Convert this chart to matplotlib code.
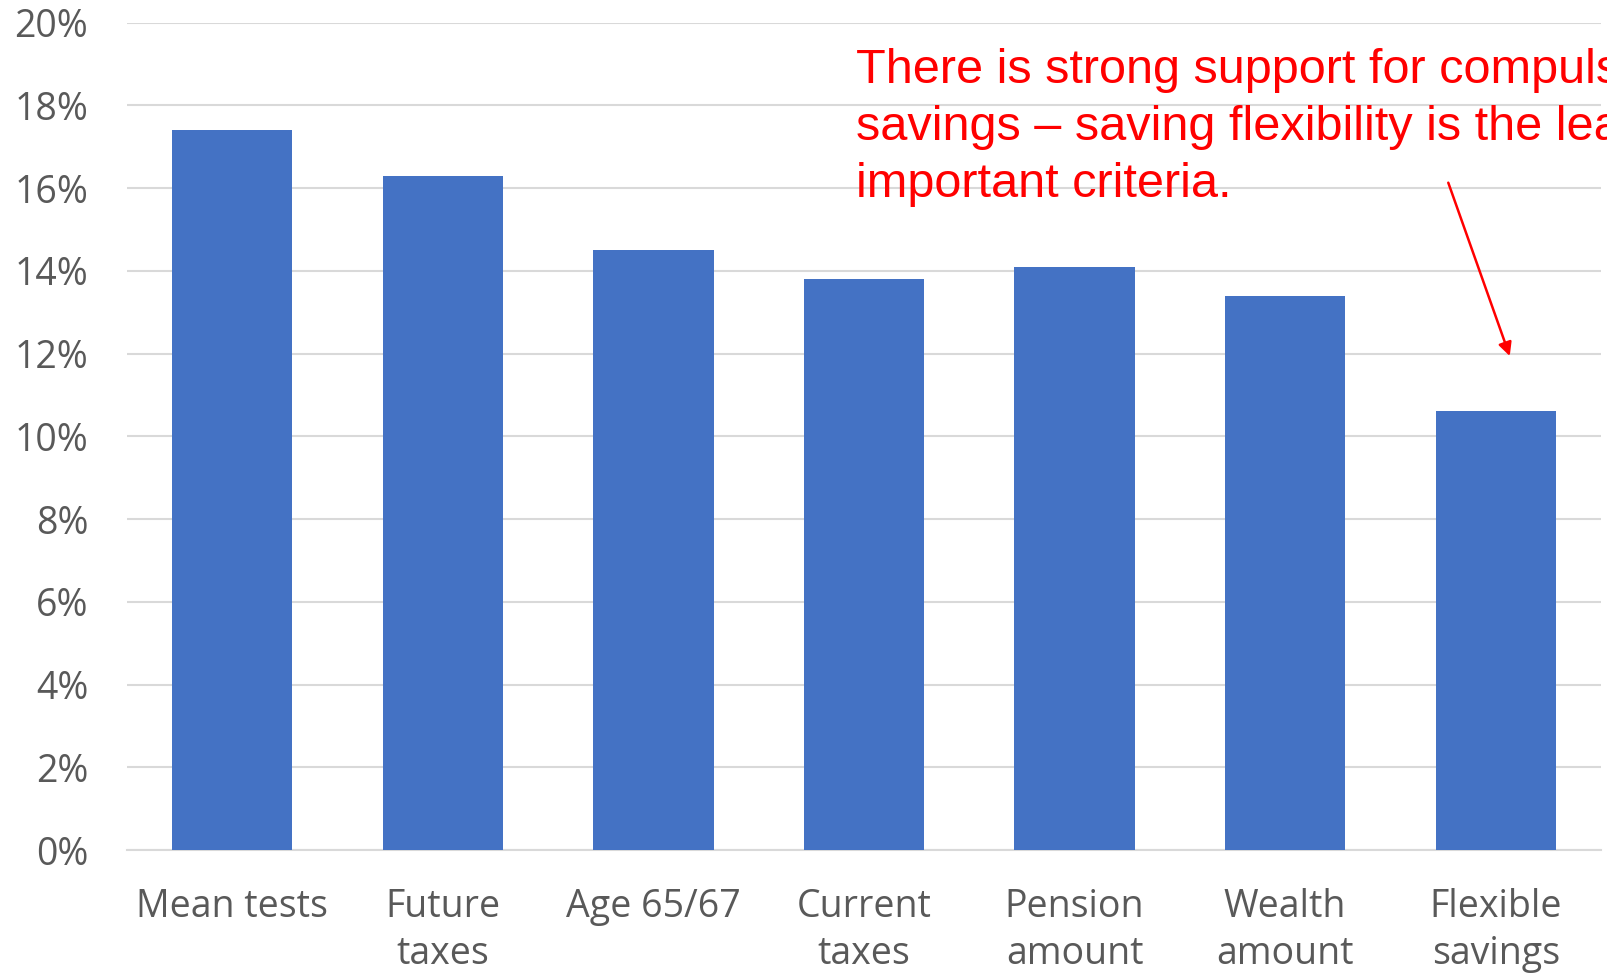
import matplotlib
matplotlib.use("Agg")
import matplotlib.pyplot as plt
from matplotlib.ticker import FuncFormatter

categories = ["Mean tests", "Future\ntaxes", "Age 65/67", "Current\ntaxes",
              "Pension\namount", "Wealth\namount", "Flexible\nsavings"]
shares = [17.4, 16.3, 14.5, 13.8, 14.1, 13.4, 10.6]
y_ticks = [0, 2, 4, 6, 8, 10, 12, 14, 16, 18, 20]
note = ("There is strong support for compulsory\n"
        "savings \u2013 saving flexibility is the least\n"
        "important criteria.")

fig = plt.figure(figsize=(16.08, 9.73), dpi=100)
ax = fig.add_axes([0.079, 0.1264, 0.9166, 0.8504])

x = range(len(categories))
ax.bar(x, shares, width=0.571, color="#4472C4", zorder=3)

ax.set_xlim(-0.5, len(categories) - 0.5)
ax.set_ylim(0, 20)
ax.set_yticks(y_ticks)
ax.yaxis.set_major_formatter(FuncFormatter(lambda v, _: f"{v:.0f}%"))
ax.grid(axis="y", color="#d9d9d9", linewidth=1.5, zorder=0)
ax.set_axisbelow(True)
for s in ("top", "right", "left"):
    ax.spines[s].set_visible(False)
ax.spines["bottom"].set_color("#d9d9d9")
ax.spines["bottom"].set_linewidth(1.5)

ax.set_xticks(list(x))
ax.set_xticklabels(categories, fontsize=27, color="#595959", family="Open Sans",
                   linespacing=1.32)
ax.tick_params(axis="x", length=0, pad=27)
ax.tick_params(axis="y", length=0, pad=28, labelsize=27, labelcolor="#595959")
for lab in ax.get_yticklabels():
    lab.set_family("Open Sans")

fig.text(856 / 1608, 1 - 48 / 973, note, color="#FF0000", fontsize=35,
         family="Liberation Sans", va="top", ha="left", linespacing=1.34)

ax.annotate("", xy=(6.067, 11.94), xytext=(5.775, 16.13),
            arrowprops=dict(arrowstyle="-|>", color="#FF0000", lw=1.8,
                            mutation_scale=20, shrinkA=0, shrinkB=0))

fig.savefig("out.png", dpi=100)
